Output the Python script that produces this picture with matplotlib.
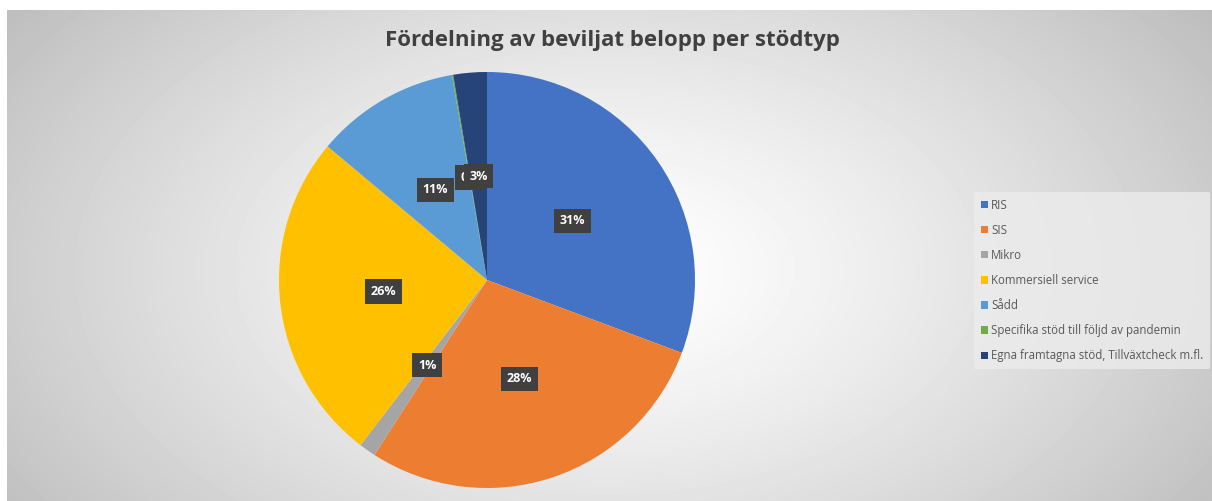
import numpy as np
import matplotlib
matplotlib.use('Agg')
import matplotlib.pyplot as plt
from matplotlib.patches import Patch

title = 'Fördelning av beviljat belopp per stödtyp'
categories = ['RIS', 'SIS', 'Mikro', 'Kommersiell service', 'Sådd',
              'Specifika stöd till följd av pandemin',
              'Egna framtagna stöd, Tillväxtcheck m.fl.']
shares = [30.7, 28.4, 1.3, 25.7, 11.2, 0.1, 2.6]
colors = ['#4472C4', '#ED7D31', '#A5A5A5', '#FFC000', '#5B9BD5', '#70AD47', '#264478']

W, H = 1212, 501
fig = plt.figure(figsize=(W / 100, H / 100), dpi=100)
fig.patch.set_facecolor('white')

# radial gray background of the chart area
bg = fig.add_axes([7 / W, 0, 1 - 7 / W, 1 - 10 / H])
yy, xx = np.mgrid[0:491, 0:1205]
d = np.sqrt(((xx - 600) / 700.0) ** 2 + ((yy - 260) / 420.0) ** 2)
shade = np.clip(1.0 - 0.24 * d ** 1.3, 0, 1)
bg.imshow(shade, cmap='gray', vmin=0, vmax=1, aspect='auto', interpolation='bilinear')
bg.axis('off')

cx, cy, r = 487, 280, 208
ax = fig.add_axes([(cx - r) / W, (H - cy - r) / H, 2 * r / W, 2 * r / H])
wedges, _ = ax.pie(shares, colors=colors, startangle=90, counterclock=False,
                   radius=1.0, wedgeprops=dict(linewidth=0))
ax.set_xlim(-1, 1)
ax.set_ylim(-1, 1)
ax.set_aspect('equal')
ax.axis('off')

for w, v in zip(wedges, shares):
    ang = np.deg2rad((w.theta1 + w.theta2) / 2)
    x, y = 0.5 * np.cos(ang), 0.5 * np.sin(ang)
    ax.text(x, y, '{:.0f}%'.format(v), ha='center', va='center', color='white',
            fontsize=9, fontweight='bold', family='Open Sans',
            bbox=dict(boxstyle='square,pad=0.45', fc='#404040', ec='none'))

fig.text(612 / W, 1 - 41 / H, title, ha='center', va='center', fontsize=16,
         fontweight='bold', color='#404040', family='Open Sans')

handles = [Patch(facecolor=c, edgecolor='none') for c in colors]
leg = fig.legend(handles, categories, loc='upper left',
                 bbox_to_anchor=(968 / W, 1 - 186 / H), frameon=True,
                 handlelength=0.6, handleheight=0.6,
                 handletextpad=0.3, labelspacing=1.05, borderpad=0.6,
                 prop={'family': 'Open Sans', 'size': 8.3})
leg.get_frame().set_facecolor('#ececec')
leg.get_frame().set_edgecolor('none')
leg.get_frame().set_alpha(0.8)
for t in leg.get_texts():
    t.set_color('#595959')

fig.savefig('out.png', dpi=100)
